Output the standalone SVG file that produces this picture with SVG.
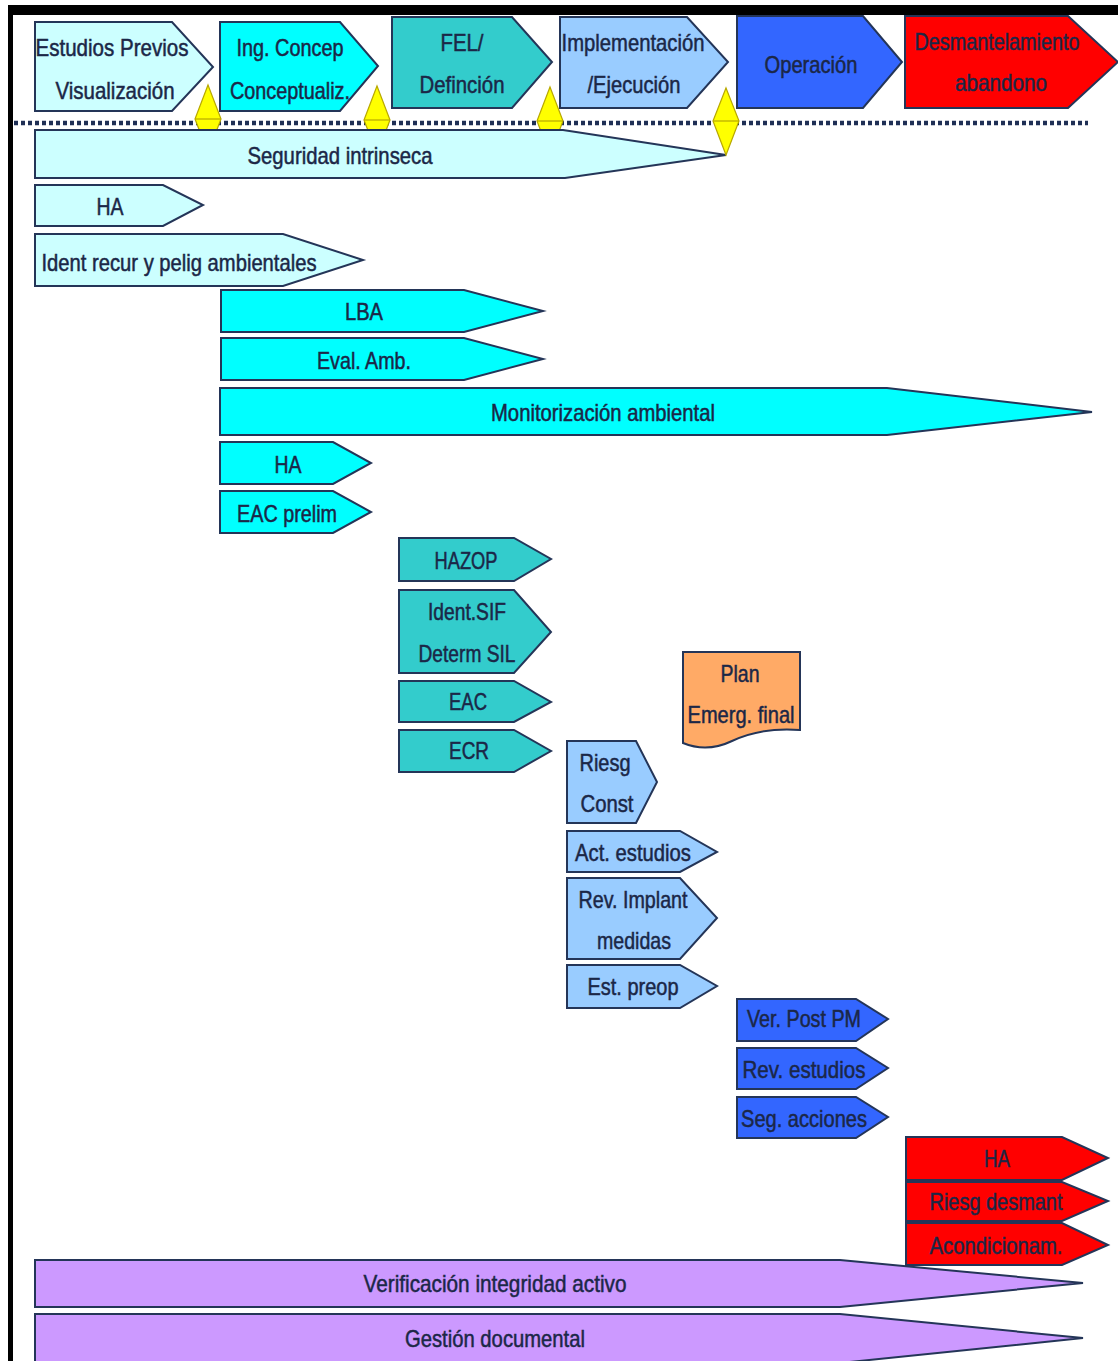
<svg xmlns="http://www.w3.org/2000/svg" width="1118" height="1361" viewBox="0 0 1118 1361">
<style>
.s{stroke:#243558;stroke-width:2;stroke-linejoin:miter}
.lc{fill:#CCFFFF}.cy{fill:#00FFFF}.tl{fill:#33CCCC}.lb{fill:#99CCFF}.bl{fill:#3366FF}.rd{fill:#FF0000}.lv{fill:#CC99FF}.or{fill:#FFAA66}
.ms{fill:#FFFF00;stroke:#B8A800;stroke-width:1.2}
text{font-family:"Liberation Sans",Arial,sans-serif;font-size:24px;fill:#1B2747;stroke:#1B2747;stroke-width:0.5;text-anchor:middle}
</style>
<rect x="0" y="0" width="1118" height="1361" fill="#FFFFFF"/>
<g id="frame">
<rect x="8" y="5" width="1110" height="10" fill="#000000"/>
<rect x="8" y="5" width="5" height="1356" fill="#000000"/>
</g>
<g id="phase-estudios"><polygon class="s lc" points="35,22 172,22 213,67 172,111 35,111"/>
<text x="112" y="56" textLength="153" lengthAdjust="spacingAndGlyphs">Estudios Previos</text>
<text x="115" y="99" textLength="119" lengthAdjust="spacingAndGlyphs">Visualización</text></g>
<g id="phase-ingconcep"><polygon class="s cy" points="220,22 340,22 378,66 340,111 220,111"/>
<text x="290" y="56" textLength="107" lengthAdjust="spacingAndGlyphs">Ing. Concep</text>
<text x="290" y="99" textLength="120" lengthAdjust="spacingAndGlyphs">Conceptualiz.</text></g>
<g id="phase-fel"><polygon class="s tl" points="392,17 512,17 552,62 512,108 392,108"/>
<text x="462" y="51" textLength="43" lengthAdjust="spacingAndGlyphs">FEL/</text>
<text x="462" y="93" textLength="85" lengthAdjust="spacingAndGlyphs">Definción</text></g>
<g id="phase-implementacion"><polygon class="s lb" points="560,17 687,17 728,62 687,108 560,108"/>
<text x="633" y="51" textLength="143" lengthAdjust="spacingAndGlyphs">Implementación</text>
<text x="634" y="93" textLength="93" lengthAdjust="spacingAndGlyphs">/Ejecución</text></g>
<g id="phase-operacion"><polygon class="s bl" points="737,16 863,16 902,62 863,108 737,108"/>
<text x="811" y="73" textLength="93" lengthAdjust="spacingAndGlyphs">Operación</text></g>
<g id="phase-desmantelamiento"><polygon class="s rd" points="905,16 1068,16 1118,62 1068,108 905,108"/>
<text x="997" y="50" textLength="165" lengthAdjust="spacingAndGlyphs">Desmantelamiento</text>
<text x="1001" y="91" textLength="92" lengthAdjust="spacingAndGlyphs">abandono</text></g>
<g id="timeline">
<line x1="14" y1="123" x2="1088" y2="123" stroke="#1F2F55" stroke-width="4.5" stroke-dasharray="4,3"/>
</g>
<g id="milestones">
<g id="ms1"><polygon class="ms" points="208,85 221,119 208,153 195,119"/><line x1="195" y1="119" x2="221" y2="119" stroke="#B8A800" stroke-width="1.2"/></g>
<g id="ms2"><polygon class="ms" points="377,86 390,120 377,154 364,120"/><line x1="364" y1="120" x2="390" y2="120" stroke="#B8A800" stroke-width="1.2"/></g>
<g id="ms3"><polygon class="ms" points="550,87 563,121 550,155 537,121"/><line x1="537" y1="121" x2="563" y2="121" stroke="#B8A800" stroke-width="1.2"/></g>
</g>
<g id="seguridad"><polygon class="s lc" points="35,130 563,130 726,155 565,178 35,178"/>
<text x="340" y="164" textLength="185" lengthAdjust="spacingAndGlyphs">Seguridad intrinseca</text></g>
<g id="ms4"><polygon class="ms" points="726,88 739,121 726,155 713,121"/><line x1="713" y1="121" x2="739" y2="121" stroke="#B8A800" stroke-width="1.2"/></g>
<g id="ha1"><polygon class="s lc" points="35,185 163,185 203,205 163,226 35,226"/>
<text x="110" y="215" textLength="27" lengthAdjust="spacingAndGlyphs">HA</text></g>
<g id="ident-recur"><polygon class="s lc" points="35,234 283,234 363,260 283,286 35,286"/>
<text x="179" y="271" textLength="275" lengthAdjust="spacingAndGlyphs">Ident recur y pelig ambientales</text></g>
<g id="lba"><polygon class="s cy" points="221,290 464,290 543,311 464,332 221,332"/>
<text x="364" y="320" textLength="38" lengthAdjust="spacingAndGlyphs">LBA</text></g>
<g id="eval-amb"><polygon class="s cy" points="221,338 464,338 543,359 464,380 221,380"/>
<text x="364" y="369" textLength="94" lengthAdjust="spacingAndGlyphs">Eval. Amb.</text></g>
<g id="monitorizacion"><polygon class="s cy" points="220,388 887,388 1092,412 887,435 220,435"/>
<text x="603" y="421" textLength="224" lengthAdjust="spacingAndGlyphs">Monitorización ambiental</text></g>
<g id="ha2"><polygon class="s cy" points="220,442 333,442 371,463 333,484 220,484"/>
<text x="288" y="473" textLength="27" lengthAdjust="spacingAndGlyphs">HA</text></g>
<g id="eac-prelim"><polygon class="s cy" points="220,491 333,491 371,512 333,533 220,533"/>
<text x="287" y="522" textLength="100" lengthAdjust="spacingAndGlyphs">EAC prelim</text></g>
<g id="hazop"><polygon class="s tl" points="399,538 514,538 551,559 514,581 399,581"/>
<text x="466" y="569" textLength="63" lengthAdjust="spacingAndGlyphs">HAZOP</text></g>
<g id="ident-sif"><polygon class="s tl" points="399,590 514,590 551,632 514,673 399,673"/>
<text x="467" y="620" textLength="78" lengthAdjust="spacingAndGlyphs">Ident.SIF</text>
<text x="467" y="662" textLength="97" lengthAdjust="spacingAndGlyphs">Determ SIL</text></g>
<g id="eac"><polygon class="s tl" points="399,681 514,681 551,702 514,722 399,722"/>
<text x="468" y="710" textLength="38" lengthAdjust="spacingAndGlyphs">EAC</text></g>
<g id="ecr"><polygon class="s tl" points="399,730 514,730 551,751 514,772 399,772"/>
<text x="469" y="759" textLength="40" lengthAdjust="spacingAndGlyphs">ECR</text></g>
<g id="plan-emerg"><path class="s or" d="M683,652 H800 V730 Q762,727 732,741 Q707,753 683,743 Z"/>
<text x="740" y="682" textLength="39" lengthAdjust="spacingAndGlyphs">Plan</text>
<text x="741" y="723" textLength="107" lengthAdjust="spacingAndGlyphs">Emerg. final</text></g>
<g id="riesg-const"><polygon class="s lb" points="567,741 636,741 657,782 636,823 567,823"/>
<text x="605" y="771" textLength="51" lengthAdjust="spacingAndGlyphs">Riesg</text>
<text x="607" y="812" textLength="53" lengthAdjust="spacingAndGlyphs">Const</text></g>
<g id="act-estudios"><polygon class="s lb" points="567,831 680,831 717,852 680,872 567,872"/>
<text x="633" y="861" textLength="116" lengthAdjust="spacingAndGlyphs">Act. estudios</text></g>
<g id="rev-implant"><polygon class="s lb" points="567,878 680,878 717,918 680,959 567,959"/>
<text x="633" y="908" textLength="109" lengthAdjust="spacingAndGlyphs">Rev. Implant</text>
<text x="634" y="949" textLength="74" lengthAdjust="spacingAndGlyphs">medidas</text></g>
<g id="est-preop"><polygon class="s lb" points="567,965 680,965 717,986 680,1008 567,1008"/>
<text x="633" y="995" textLength="91" lengthAdjust="spacingAndGlyphs">Est. preop</text></g>
<g id="ver-post-pm"><polygon class="s bl" points="737,999 856,999 888,1019 856,1041 737,1041"/>
<text x="804" y="1027" textLength="114" lengthAdjust="spacingAndGlyphs">Ver. Post PM</text></g>
<g id="rev-estudios"><polygon class="s bl" points="737,1048 856,1048 888,1068 856,1089 737,1089"/>
<text x="804" y="1078" textLength="123" lengthAdjust="spacingAndGlyphs">Rev. estudios</text></g>
<g id="seg-acciones"><polygon class="s bl" points="737,1097 856,1097 888,1117 856,1138 737,1138"/>
<text x="804" y="1127" textLength="126" lengthAdjust="spacingAndGlyphs">Seg. acciones</text></g>
<g id="ha3"><polygon class="s rd" points="906,1137 1062,1137 1108,1158 1062,1180 906,1180"/>
<text x="997" y="1167" textLength="26" lengthAdjust="spacingAndGlyphs">HA</text></g>
<g id="riesg-desmant"><polygon class="s rd" points="906,1182 1062,1182 1108,1201 1062,1221 906,1221"/>
<text x="996" y="1210" textLength="133" lengthAdjust="spacingAndGlyphs">Riesg desmant</text></g>
<g id="acondicionam"><polygon class="s rd" points="906,1223 1062,1223 1108,1245 1062,1265 906,1265"/>
<text x="996" y="1254" textLength="133" lengthAdjust="spacingAndGlyphs">Acondicionam.</text></g>
<g id="verificacion"><polygon class="s lv" points="35,1260 840,1260 1083,1283 840,1307 35,1307"/>
<text x="495" y="1292" textLength="263" lengthAdjust="spacingAndGlyphs">Verificación integridad activo</text></g>
<g id="gestion"><polygon class="s lv" points="35,1314 840,1314 1083,1338 840,1363 35,1363"/>
<text x="495" y="1347" textLength="180" lengthAdjust="spacingAndGlyphs">Gestión documental</text></g>
<g id="connectors"/>
</svg>
